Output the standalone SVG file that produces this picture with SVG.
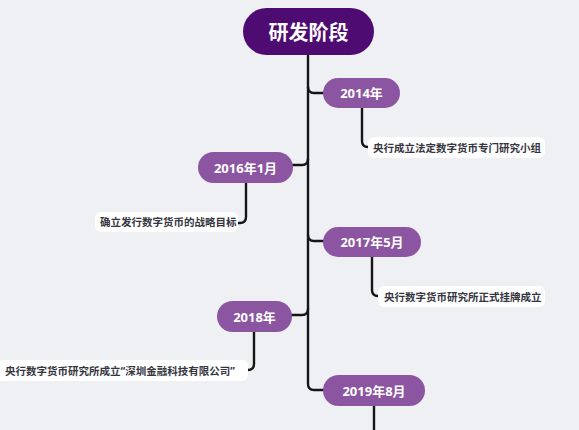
<svg xmlns="http://www.w3.org/2000/svg" width="579" height="430" viewBox="0 0 579 430">
<style>
.bg{fill:#eff0f4}
.root{fill:#4e0b72}
.pill{fill:#8b55a1}
.lbl{fill:#ffffff}
.line{fill:none;stroke:#161616;stroke-width:2.4;stroke-linecap:round;stroke-linejoin:round}
.rt{font-family:"Open Sans","Noto Sans CJK SC",sans-serif;font-weight:700;font-size:20px;fill:#ffffff;text-anchor:middle;dominant-baseline:central}
.pt{font-family:"Open Sans","Noto Sans CJK SC",sans-serif;font-weight:700;font-size:13px;fill:#ffffff;text-anchor:middle;dominant-baseline:central}
.lt{font-family:"Open Sans","Noto Sans CJK SC",sans-serif;font-weight:700;font-size:10.5px;fill:#353540;dominant-baseline:central}
</style>
<rect class="bg" x="0" y="0" width="579" height="430"/>
<g id="connectors">
<path class="line" d="M308,54 V384 Q308,390 314,390 H324"/>
<path class="line" d="M308,87 Q308,93 314,93 H324"/>
<path class="line" d="M308,159 Q308,165 302,165 H293"/>
<path class="line" d="M308,235 Q308,241 314,241 H324"/>
<path class="line" d="M308,309 Q308,315 302,315 H292"/>
<path class="line" d="M362,108 V141 Q362,147 368,147 H370"/>
<path class="line" d="M246,183 V217 Q246,223 240,223 H238"/>
<path class="line" d="M372,257 V290 Q372,296 378,296 H380"/>
<path class="line" d="M254,332 V364 Q254,370 248,370 H246"/>
<path class="line" d="M374,406 V432"/>
</g>
<g id="root">
<rect class="root" x="243" y="8" width="131" height="47" rx="23.5"/>
<text class="rt" x="308.5" y="32">研发阶段</text>
</g>
<g id="n2014">
<rect class="pill" x="323" y="78" width="77" height="30" rx="15"/>
<text class="pt" x="361.5" y="93">2014年</text>
</g>
<g id="l2014">
<rect class="lbl" x="368" y="137" width="177" height="21" rx="6"/>
<text class="lt" x="373" y="147.5">央行成立法定数字货币专门研究小组</text>
</g>
<g id="n2016">
<rect class="pill" x="198" y="152" width="95" height="31" rx="15.5"/>
<text class="pt" x="245.5" y="167.5">2016年1月</text>
</g>
<g id="l2016">
<rect class="lbl" x="95" y="212" width="143" height="20" rx="6"/>
<text class="lt" x="100" y="222">确立发行数字货币的战略目标</text>
</g>
<g id="n2017">
<rect class="pill" x="323" y="227" width="98" height="30" rx="15"/>
<text class="pt" x="372" y="242">2017年5月</text>
</g>
<g id="l2017">
<rect class="lbl" x="378" y="286" width="167" height="21" rx="6"/>
<text class="lt" x="384" y="296.5">央行数字货币研究所正式挂牌成立</text>
</g>
<g id="n2018">
<rect class="pill" x="217" y="301" width="75" height="31" rx="15.5"/>
<text class="pt" x="254.5" y="316.5">2018年</text>
</g>
<g id="l2018">
<rect class="lbl" x="-6" y="360" width="254" height="21" rx="6"/>
<text class="lt" x="5" y="370.5">央行数字货币研究所成立“深圳金融科技有限公司”</text>
</g>
<g id="n2019">
<rect class="pill" x="323" y="375" width="102" height="31" rx="15.5"/>
<text class="pt" x="374" y="390.5">2019年8月</text>
</g>
</svg>
